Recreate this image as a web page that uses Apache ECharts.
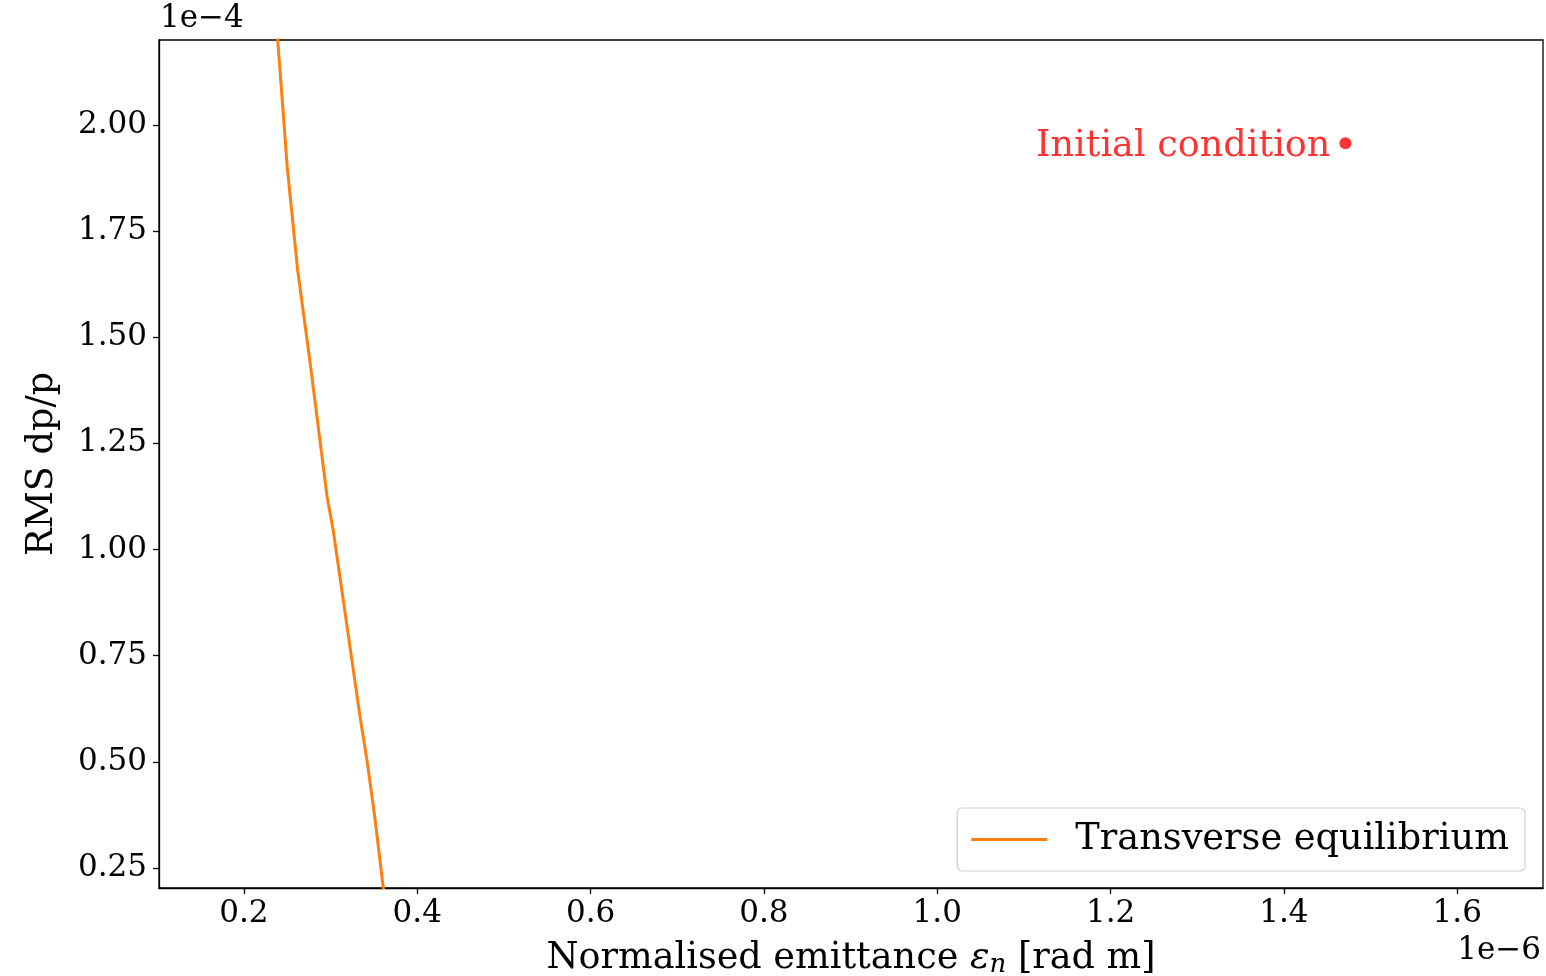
<!DOCTYPE html>
<html>
<head>
<meta charset="utf-8">
<script src="https://cdn.jsdelivr.net/npm/echarts@6/dist/echarts.min.js"></script>
<style>
html,body{margin:0;padding:0;background:#fff;}
#chart{width:1546px;height:976px;}
</style>
</head>
<body>
<div id="chart"></div>
<script>
// Transverse equilibrium curve (x in 1e-6 rad m, y in 1e-4)
const eqX = [0.237, 0.239, 0.250, 0.262, 0.276, 0.296, 0.303, 0.334, 0.342, 0.351, 0.361];
const eqY = [2.25, 2.20, 1.90, 1.658, 1.446, 1.124, 1.046, 0.606, 0.504, 0.370, 0.200];
// Initial condition
const initX = [1.471];
const initY = [1.957];
// Tick labels
const xTicks = [0.2, 0.4, 0.6, 0.8, 1.0, 1.2, 1.4, 1.6];
const yTicks = [0.25, 0.50, 0.75, 1.00, 1.25, 1.50, 1.75, 2.00];

const FONT = 'DejaVu Serif';
const chart = echarts.init(document.getElementById('chart'), null, {renderer: 'canvas'});
chart.setOption({
  animation: false,
  backgroundColor: '#fff',
  textStyle: {fontFamily: FONT},
  grid: {left: 159, top: 40, right: 3, bottom: 88, show: true, borderColor: '#000', borderWidth: 1.3,
    containLabel: false, outerBoundsMode: 'none'},
  xAxis: {
    type: 'value', min: 0.102, max: 1.699,
    splitLine: {show: false},
    axisLine: {lineStyle: {color: '#000', width: 1.3}},
    axisTick: {show: true, length: 6, lineStyle: {color: '#000', width: 1.3}, customValues: xTicks},
    axisLabel: {customValues: xTicks, formatter: v => v.toFixed(1), fontFamily: FONT, fontSize: 31, color: '#000', margin: 10},
    name: 'Normalised emittance {i|ε}{sub|n} [rad m]',
    nameLocation: 'middle', nameGap: 50,
    nameTextStyle: {fontFamily: FONT, fontSize: 36.6, color: '#000',
      rich: {
        i: {fontFamily: FONT, fontSize: 36.6, fontStyle: 'italic', color: '#000'},
        sub: {fontFamily: FONT, fontSize: 26, fontStyle: 'italic', color: '#000', padding: [14, 0, 0, 0]}
      }}
  },
  yAxis: {
    type: 'value', min: 0.203, max: 2.2,
    splitLine: {show: false},
    axisLine: {lineStyle: {color: '#000', width: 1.3}},
    axisTick: {show: true, length: 6, lineStyle: {color: '#000', width: 1.3}, customValues: yTicks},
    axisLabel: {customValues: yTicks, formatter: v => v.toFixed(2), fontFamily: FONT, fontSize: 31, color: '#000', margin: 12},
    name: 'RMS dp/p', nameLocation: 'middle', nameGap: 98, nameRotate: 90,
    nameTextStyle: {fontFamily: FONT, fontSize: 36.6, color: '#000'}
  },
  legend: {
    data: [{name: 'Transverse equilibrium', icon: 'rect', itemStyle: {color: '#ff7f0e'}}],
    right: 21, bottom: 105,
    orient: 'vertical',
    itemWidth: 76, itemHeight: 3,
    padding: [13, 16, 13, 14],
    borderColor: '#d0d0d0', borderWidth: 1.2, borderRadius: 5,
    backgroundColor: 'rgba(255,255,255,0.8)',
    textStyle: {fontFamily: FONT, fontSize: 36.7, color: '#000', padding: [0, 0, 0, 23]}
  },
  graphic: [
    {type: 'text', left: 160, top: 3, style: {text: '1e\u22124', font: '31px "DejaVu Serif"', fill: '#000'}},
    {type: 'text', right: 5, top: 935, style: {text: '1e\u22126', font: '31px "DejaVu Serif"', fill: '#000'}}
  ],
  series: [
    {
      name: 'Transverse equilibrium', type: 'line',
      data: eqX.map((x, i) => [x, eqY[i]]),
      showSymbol: false, symbol: 'none', clip: true,
      lineStyle: {color: '#ff7f0e', width: 3},
      itemStyle: {color: '#ff7f0e'}
    },
    {
      name: 'Initial condition', type: 'scatter',
      data: initX.map((x, i) => [x, initY[i]]),
      symbolSize: 12, itemStyle: {color: '#ff0000'},
      label: {show: true, position: 'left', distance: 9, formatter: 'Initial condition',
        fontFamily: FONT, fontSize: 36.6, color: '#ff0000', offset: [0, 3]}
    }
  ]
});
</script>
</body>
</html>
